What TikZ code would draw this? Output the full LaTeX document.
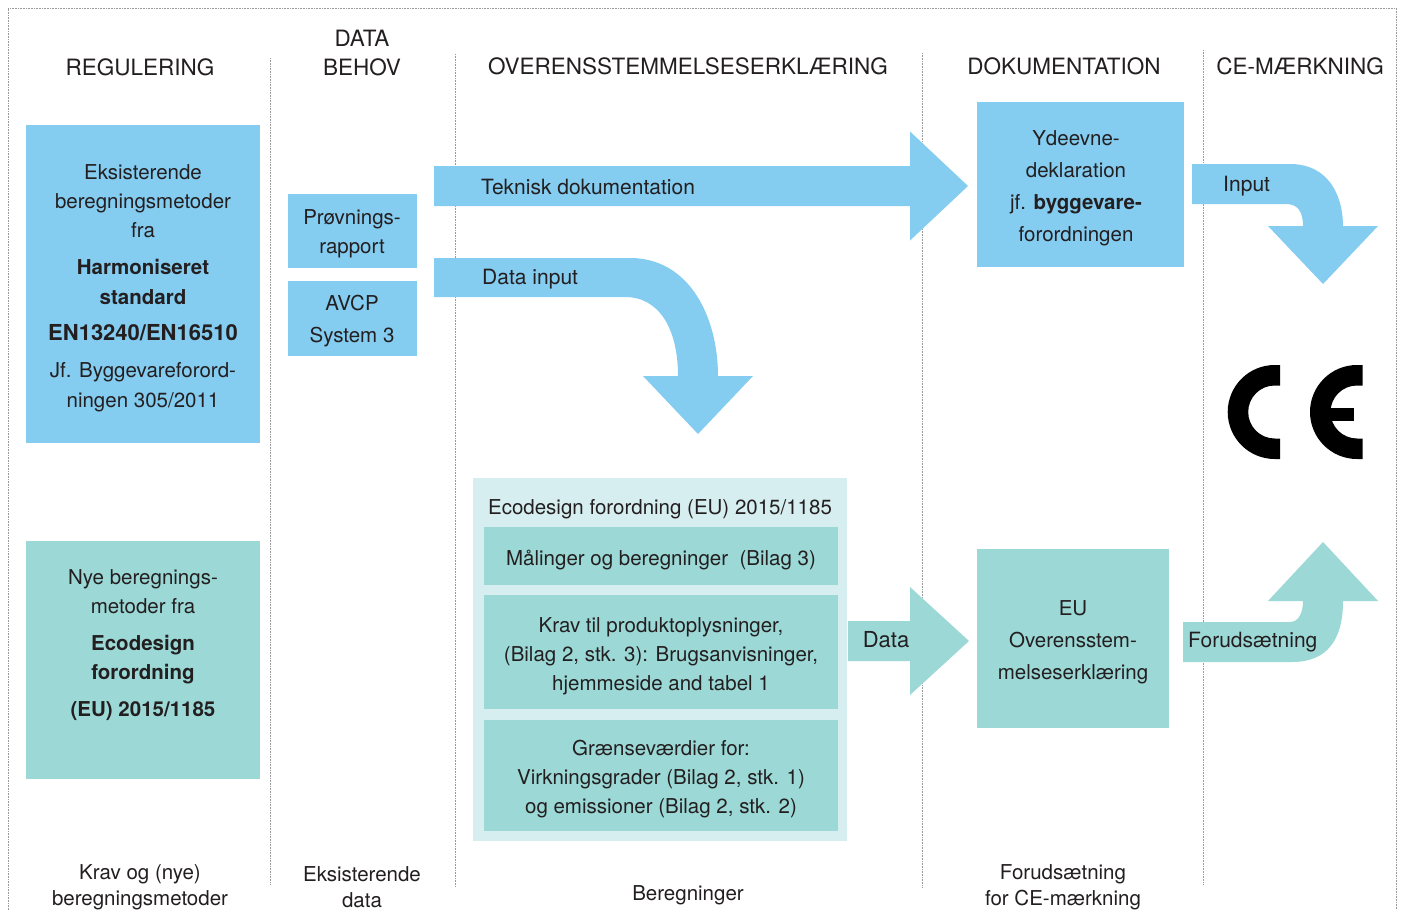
\documentclass[tikz,border=0pt]{standalone}
\usepackage{fontspec}
\setmainfont{TeX Gyre Heros}
\definecolor{cblue}{HTML}{84CCF0}
\definecolor{cteal}{HTML}{9BD8D6}
\definecolor{clight}{HTML}{D6EEEF}
\definecolor{ctext}{HTML}{231F20}
\definecolor{cline}{HTML}{9A9A9A}
\begin{document}
\begin{tikzpicture}[x=1pt,y=-1pt,
  sep/.style={draw=cline, densely dotted, line width=0.6pt},
  boxbase/.style={inner sep=0pt, outer sep=0pt, anchor=north west},
  bluebox/.style={boxbase, fill=cblue},
  tealbox/.style={boxbase, fill=cteal},
  lightbox/.style={boxbase, fill=clight},
  txt/.style={text=ctext, inner sep=0pt, align=center, yshift=-2pt, font=\fontsize{20.5}{29}\selectfont},
  txtw/.style={text=ctext, inner sep=0pt, align=center, yshift=-2pt, font=\fontsize{20.5}{32}\selectfont},
  head/.style={text=ctext, inner sep=0pt, align=center, font=\fontsize{22.5}{29}\selectfont},
  arrlbl/.style={text=ctext, inner sep=0pt, anchor=west, yshift=-1pt, font=\fontsize{21}{26}\selectfont},
  botlbl/.style={text=ctext, inner sep=0pt, align=center, yshift=-2pt, font=\fontsize{20.5}{26}\selectfont},
]
\useasboundingbox (0,0) rectangle (1403,910);
\fill[white] (0,0) rectangle (1403,910);

% frame and column separators
\draw[sep] (8,910) -- (8,8) -- (1396,8) -- (1396,910);
\draw[sep] (270,58) -- (270,884);
\draw[sep] (455,54) -- (455,887);
\draw[sep] (922,53) -- (922,887);
\draw[sep] (1203,50) -- (1203,884);

% headers
\node[head] (hreg) at (140,67) {REGULERING};
\node[head] (hdata) at (362,53) {DATA\\BEHOV};
\node[head] (hover) at (688,66) {OVERENSSTEMMELSESERKLÆRING};
\node[head] (hdok) at (1064,66) {DOKUMENTATION};
\node[head] (hce) at (1300,66) {CE-MÆRKNING};

% regulering boxes
\node[bluebox, minimum width=234pt, minimum height=318pt] (reg1) at (26,125) {};
\node[txt] (reg1t) at (143,286) {Eksisterende\\ beregningsmetoder\\ fra\\[8pt]
  {\bfseries Harmoniseret}\\[1pt] {\bfseries standard}\\[7pt]
  {\bfseries\fontsize{22}{29}\selectfont EN13240/EN16510}\\[8pt]
  Jf. Byggevareforord-\\[1pt] ningen 305/2011};
\node[tealbox, minimum width=234pt, minimum height=238pt] (reg2) at (26,541) {};
\node[txt] (reg2t) at (143,643) {Nye beregnings-\\ metoder fra\\[8pt]
  {\bfseries Ecodesign}\\ {\bfseries forordning}\\[8pt] {\bfseries (EU) 2015/1185}};

% data behov boxes
\node[bluebox, minimum width=129pt, minimum height=74pt] (prov) at (288,194) {};
\node[txt] (provt) at (352,232) {Prøvnings-\\ rapport};
\node[bluebox, minimum width=129pt, minimum height=75pt] (avcp) at (288,281) {};
\node[txt] (avcpt) at (352,319) {AVCP\\[3pt] System 3};

% block arrows (blue)
\fill[cblue] (434,166) -- (910,166) -- (910,131.5) -- (968,186) -- (910,240.5)
  -- (910,206) -- (434,206) -- cycle;
\fill[cblue] (434,258) -- (630,258) .. controls (690,258) and (718,318) .. (718,376)
  -- (753,376) -- (698,434) -- (643,376) -- (678,376)
  .. controls (678,330) and (660,297) .. (625,297) -- (434,297) -- cycle;
\fill[cblue] (1192,164) -- (1290,164) .. controls (1328,164) and (1343,195) .. (1343,226)
  -- (1378,226) -- (1323,284) -- (1268,226) -- (1303,226)
  .. controls (1303,212) and (1298,204) .. (1286,204) -- (1192,204) -- cycle;
\node[arrlbl] (ltek) at (481,186) {Teknisk dokumentation};
\node[arrlbl] (ldin) at (482,278) {Data input};
\node[arrlbl] (linp) at (1223,185) {Input};

% ecodesign group
\node[lightbox, minimum width=374pt, minimum height=363pt] (eco) at (473,478) {};
\node[txt] (ecot) at (660,507) {Ecodesign forordning (EU) 2015/1185};
\node[tealbox, minimum width=354pt, minimum height=58pt] (eco1) at (484,527) {};
\node[txt] (eco1t) at (661,558) {Målinger og beregninger~ (Bilag 3)};
\node[tealbox, minimum width=354pt, minimum height=114pt] (eco2) at (484,595) {};
\node[txt] (eco2t) at (661,654) {Krav til produktoplysninger,\\ (Bilag 2, stk. 3): Brugsanvisninger,\\ hjemmeside and tabel 1};
\node[tealbox, minimum width=354pt, minimum height=111pt] (eco3) at (484,720) {};
\node[txt] (eco3t) at (661,777) {Grænseværdier for:\\ Virkningsgrader (Bilag 2, stk. 1)\\ og emissioner (Bilag 2, stk. 2)};

% teal arrows
\fill[cteal] (848,621) -- (910,621) -- (910,587) -- (969,641) -- (910,695)
  -- (910,661) -- (848,661) -- cycle;
\node[text=ctext, inner sep=0pt, font=\fontsize{22}{26}\selectfont] (ldata) at (886,640) {Data};
\fill[cteal] (1183,622) -- (1290,622) .. controls (1299,622) and (1303,612) .. (1303,601)
  -- (1268,601) -- (1323,542) -- (1378,601) -- (1343,601)
  .. controls (1343,640) and (1327,662) .. (1292,662) -- (1183,662) -- cycle;
\node[arrlbl] (lforu) at (1188,641) {Forudsætning};

% dokumentation boxes
\node[bluebox, minimum width=207pt, minimum height=165pt] (ydv) at (977,102) {};
\node[txtw] (ydvt) at (1076,186) {Ydeevne-\\ deklaration\\ jf. \textbf{byggevare-}\\ forordningen};
\node[tealbox, minimum width=192pt, minimum height=179pt] (euo) at (977,549) {};
\node[txtw] (euot) at (1073,640) {EU\\ Overensstem-\\ melseserklæring};

% CE mark
\begin{scope}[shift={(1274.7,412)}, y=1pt]
  \fill[black] (5.5,47) -- (0,47) arc[start angle=90, end angle=270, radius=47]
    -- (5.5,-47) -- (5.5,-26.5) -- (0,-26.5) arc[start angle=270, end angle=90, radius=26.5]
    -- (5.5,26.5) -- cycle;
\end{scope}
\begin{scope}[shift={(1357,412)}, y=1pt]
  \fill[black] (5.5,47) -- (0,47) arc[start angle=90, end angle=270, radius=47]
    -- (5.5,-47) -- (5.5,-26.5) -- (0,-26.5) arc[start angle=270, end angle=90, radius=26.5]
    -- (5.5,26.5) -- cycle;
  \fill[black] (-30,-8.5) rectangle (-3.5,4);
\end{scope}
\coordinate (cemark) at (1316,412);

% bottom labels
\node[botlbl] (b1) at (140,885) {Krav og (nye)\\ beregningsmetoder};
\node[botlbl] (b2) at (362,885) {Eksisterende\\ data};
\node[botlbl] (b3) at (688,893) {Beregninger};
\node[botlbl] (b4) at (1063,885) {Forudsætning\\ for CE-mærkning};
\end{tikzpicture}
\end{document}
